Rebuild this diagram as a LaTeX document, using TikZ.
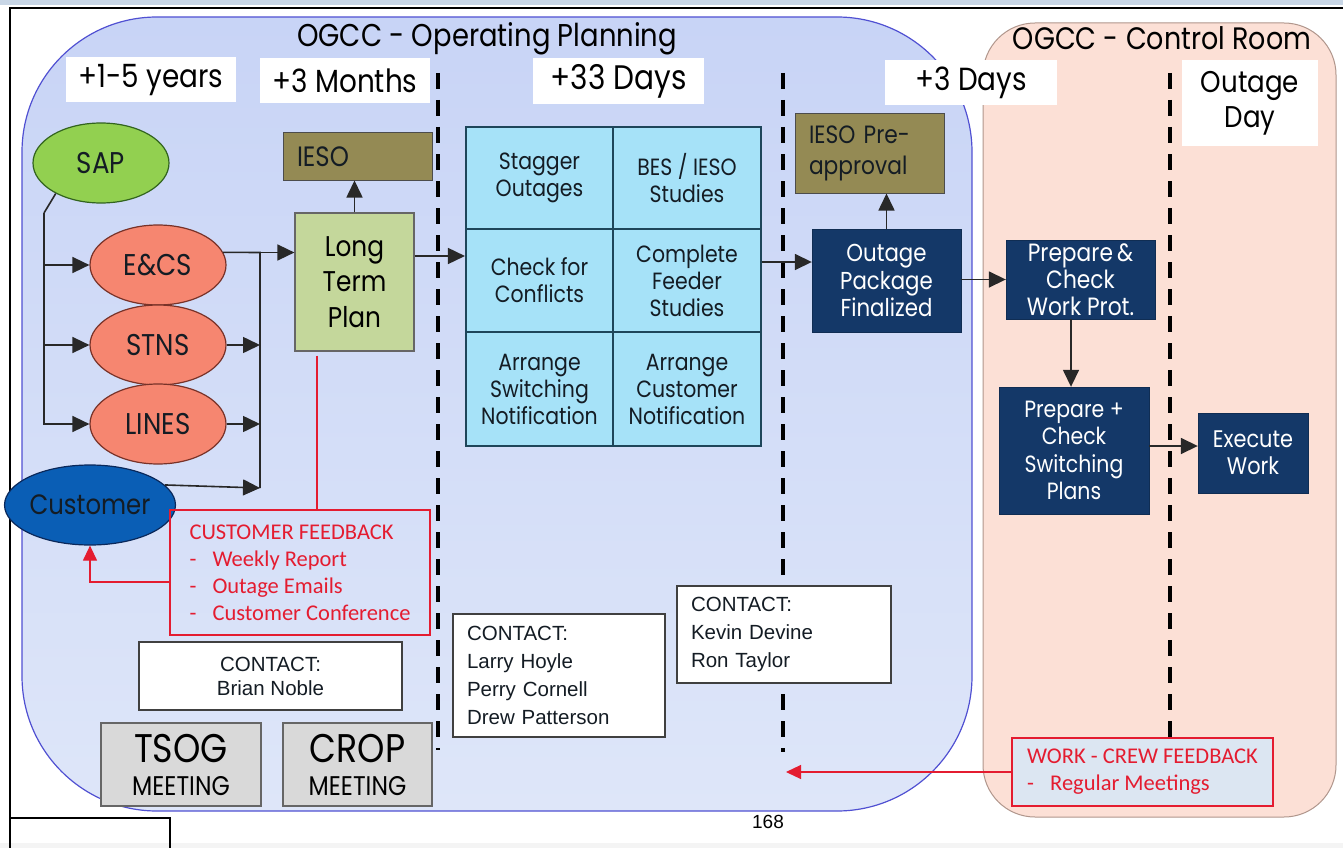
\documentclass[tikz,border=0pt]{standalone}
\usepackage{fontspec}
\setmainfont{Liberation Sans}
\newfontfamily\futfont[FakeStretch=0.87]{Poppins}
\newfontfamily\calfont{Carlito}
\usetikzlibrary{shapes.geometric,arrows.meta}

\definecolor{stripC}{RGB}{200,214,230}
\definecolor{stripB}{RGB}{244,244,244}
\definecolor{blueTop}{RGB}{200,212,246}
\definecolor{blueBot}{RGB}{222,230,249}
\definecolor{blueEdge}{RGB}{80,80,210}
\definecolor{salC}{RGB}{252,224,214}
\definecolor{salEdge}{RGB}{176,150,140}
\definecolor{sapG}{RGB}{146,208,80}
\definecolor{sapEdge}{RGB}{50,100,30}
\definecolor{ovalR}{RGB}{246,134,112}
\definecolor{ovalEdge}{RGB}{120,50,40}
\definecolor{custB}{RGB}{10,94,181}
\definecolor{custEdge}{RGB}{10,40,90}
\definecolor{ltpG}{RGB}{196,215,155}
\definecolor{oliveC}{RGB}{148,138,84}
\definecolor{gridC}{RGB}{166,226,248}
\definecolor{gridEdge}{RGB}{30,70,90}
\definecolor{navyC}{RGB}{20,56,104}
\definecolor{greyM}{RGB}{217,217,217}
\definecolor{redT}{RGB}{228,28,48}
\definecolor{crewC}{RGB}{220,230,242}
\definecolor{inkC}{RGB}{20,28,36}
\definecolor{lineC}{RGB}{40,40,40}

% geometric face at a given size, optional line-skip factor
\newcommand{\futsize}[2][1.22]{\futfont\fontsize{#2}{\fpeval{#2*#1}}\selectfont}

\tikzset{
  base/.style={inner sep=0pt, align=center, text=inkC},
  fut/.style={font=\futsize{#1}},
  futl/.style 2 args={font=\futsize[#2]{#1}},
  title/.style={base, text=black},
  period/.style={base, fill=white, fut=32, text=black},
  oval/.style={base, ellipse, minimum width=136pt, minimum height=80pt, line width=1.2pt, fut=30},
  gridcell/.style={base, draw=gridEdge, line width=1.6pt, fill=gridC, minimum width=147.5pt, futl={23.5}{1.15}},
  navybox/.style={base, draw=navyC!80!black, fill=navyC, text=white, futl={23.5}{1.16}},
  olivebox/.style={base, draw=black!70, line width=1pt, fill=oliveC, fut=24, align=left, inner xsep=14pt},
  contact/.style={base, draw=black!75, line width=1.2pt, fill=white, font=\fontsize{20.5}{28}\selectfont},
  meeting/.style={base, draw=black!60, line width=1.2pt, fill=greyM, minimum width=#1, minimum height=83pt, text=black, font=\futsize{27}},
  feedback/.style={base, draw=redT, line width=1.2pt, text=redT, align=left, font=\calfont\fontsize{22.5}{27}\selectfont},
  arr/.style={draw=lineC, line width=1.6pt, -{Triangle[length=17pt,width=16pt]}},
  redarr/.style={draw=redT, line width=1.2pt, -{Triangle[length=15pt,width=14pt]}},
  divider/.style={line width=4pt, dash pattern=on 16pt off 11pt}
}

\begin{document}
\begin{tikzpicture}[x=1pt,y=-1pt]
\useasboundingbox (0,0) rectangle (1343,848);

% page frame
\fill[stripC] (0,0) rectangle (1343,5);
\fill[stripB] (0,843) rectangle (1343,848);
\draw[line width=2.5pt] (10,848) -- (10,8) -- (1343,8);
\draw[line width=2.5pt] (10,818) -- (170,818) -- (170,848);

% the two areas
\draw[draw=blueEdge, line width=1.2pt, top color=blueTop, bottom color=blueBot, rounded corners=135pt] (22,17) rectangle (972,811);
\draw[draw=salEdge, line width=1pt, fill=salC, rounded corners=52pt] (983,23) rectangle (1336,817);

\node[title, fut=31.5] (tplan) at (487,39) {OGCC - Operating Planning};
\node[title, fut=31] (tctrl) at (1162,38) {OGCC - Control Room};

% time horizons
\node[period, minimum width=170pt, minimum height=45pt] (p1) at (151,80) {+1-5 years};
\node[period, minimum width=170pt, minimum height=45pt] (p2) at (345,80.5) {+3 Months};
\node[period, minimum width=171pt, minimum height=46pt, fut=34] (p3) at (618.5,81) {+33 Days};
\node[period, minimum width=172pt, minimum height=45pt] (p4) at (971,82.5) {+3 Days};
\node[period, minimum width=136pt, minimum height=86pt, fut=30] (p5) at (1250,103) {Outage\\[-2pt]Day};

% phase dividers
\draw[divider] (438,73) -- (438,750);
\draw[divider] (783,73) -- (783,752);
\draw[divider] (1170,73) -- (1170,740);

% sources
\node[oval, draw=sapEdge, fill=sapG] (sap) at (101,163) {SAP};
\node[oval, draw=ovalEdge, fill=ovalR] (ecs) at (158,265) {E\&CS};
\node[oval, draw=ovalEdge, fill=ovalR] (stns) at (158,345) {STNS};
\node[oval, draw=ovalEdge, fill=ovalR] (lines) at (158,424) {LINES};
\node[oval, draw=custEdge, fill=custB, fut=28] (cust) at (90,505) {Customer};

% long term plan
\node[base, draw=black!60, line width=1.2pt, fill=ltpG, minimum width=119pt, minimum height=138pt, fut=28.5, text=black] (ltp) at (354.5,282) {Long\\[1pt]Term\\[1pt]Plan};
\node[olivebox, fut=28, text width=121pt, minimum height=47pt] (ieso) at (357.5,156.5) {IESO\\[-2pt]};

% 33 day activities
\node[gridcell, minimum height=102pt] (g11) at (539.5,178) {Stagger\\Outages};
\node[gridcell, minimum height=102pt] (g12) at (687,178) {BES / IESO\\Studies};
\node[gridcell, minimum height=103pt] (g21) at (539.5,280.5) {Check for\\Conflicts};
\node[gridcell, minimum height=103pt] (g22) at (687,280.5) {Complete\\Feeder\\Studies};
\node[gridcell, minimum height=114pt] (g31) at (539.5,389) {Arrange\\Switching\\Notification};
\node[gridcell, minimum height=114pt] (g32) at (687,389) {Arrange\\Customer\\Notification};

% 3 day and outage day
\node[navybox, minimum width=149pt, minimum height=103pt, futl={24.5}{1.12}] (opf) at (886.5,280.5) {Outage\\Package\\Finalized};
\node[olivebox, text width=121pt, minimum height=79pt, fut=25] (iesopre) at (869.5,153.5) {IESO Pre-\\approval};
\node[navybox, minimum width=149pt, minimum height=79pt, futl={25}{1.08}] (pcw) at (1080.5,279.5) {Prepare\,\&\\Check\\Work Prot.};
\node[navybox, minimum width=150pt, minimum height=127pt] (pcs) at (1074,450.5) {Prepare +\\Check\\Switching\\Plans};
\node[navybox, minimum width=110pt, minimum height=80pt, futl={24}{1.12}] (exec) at (1253,453) {Execute\\Work};

% feedback and contacts
\node[feedback, minimum width=260pt, minimum height=125pt] (custfb) at (300,572.5)
  {CUSTOMER FEEDBACK\\\makebox[23pt][l]{-}Weekly Report\\\makebox[23pt][l]{-}Outage Emails\\\makebox[23pt][l]{-}Customer Conference};
\node[feedback, fill=crewC, minimum width=261pt, minimum height=68pt] (crewfb) at (1142.5,772)
  {WORK - CREW FEEDBACK\\\makebox[23pt][l]{-}Regular Meetings};
\node[contact, minimum width=263pt, minimum height=68pt, font=\fontsize{20.5}{24}\selectfont] (brian) at (270.5,676) {CONTACT:\\Brian Noble};
\node[contact, text width=184pt, inner xsep=14pt, align=left, minimum height=123pt] (larry) at (559,675.5) {CONTACT:\\Larry Hoyle\\Perry Cornell\\Drew Patterson};
\node[contact, text width=186pt, inner xsep=14pt, align=left, minimum height=97pt] (kevin) at (784,634.5) {CONTACT:\\Kevin Devine\\Ron Taylor};
\node[meeting=160pt] (tsog) at (181,764.5) {{\futsize{40}TSOG}\\[0pt]MEETING};
\node[meeting=149pt] (crop) at (357.5,764.5) {{\futsize{40}CROP}\\[0pt]MEETING};

\node[base, text=black, font=\fontsize{19}{20}\selectfont] (page) at (768,822) {168};

% connectors: sources
\coordinate (sapTurn) at (44,213);
\coordinate (busTop) at (260,252.5);
\coordinate (busBot) at (260,488);
\draw[lineC, line width=1.6pt] (sap.214) -- (sapTurn);
\draw[arr] (sapTurn) -- (sapTurn |- lines) -- (lines.west);
\draw[arr] (sapTurn |- ecs) -- (ecs.west);
\draw[arr] (sapTurn |- stns) -- (stns.west);
\draw[lineC, line width=1.6pt] (ecs.11) -- (busTop) -- (busBot);
\draw[arr] (stns.east) -- (stns -| busTop);
\draw[arr] (lines.east) -- (lines -| busTop);
\draw[arr] (cust.15) -- (busBot);
\draw[arr] (busTop) -- (busTop -| ltp.west);
\draw[arr] (ltp.north) -- (ltp.north |- ieso.south);

% connectors: main flow
\draw[arr] ([yshift=26pt]ltp.east) -- ([yshift=26pt]ltp.east -| g21.west);
\draw[arr] ([yshift=18.5pt]opf.west -| g22.east) -- ([yshift=18.5pt]opf.west);
\draw[arr] (opf.north) -- (opf.north |- iesopre.south);
\draw[arr] (opf.east |- pcw.west) -- (pcw.west);
\draw[arr] ([xshift=-3pt]pcs.north |- pcw.south) -- ([xshift=-3pt]pcs.north);
\draw[arr] ([yshift=7pt]exec.west -| pcs.east) -- ([yshift=7pt]exec.west);

% feedback loops
\draw[redT, line width=1.2pt] ([xshift=-37.5pt,yshift=-4pt]ltp.south) -- ([xshift=-37.5pt]ltp.south |- custfb.north);
\draw[redarr] ([yshift=-9.5pt]custfb.west) -- ([yshift=-9.5pt]custfb.west -| cust.south) -- (cust.south);
\coordinate (crewTip) at (786,772);
\draw[redarr] (crewfb.west) -- (crewTip);
\end{tikzpicture}
\end{document}
